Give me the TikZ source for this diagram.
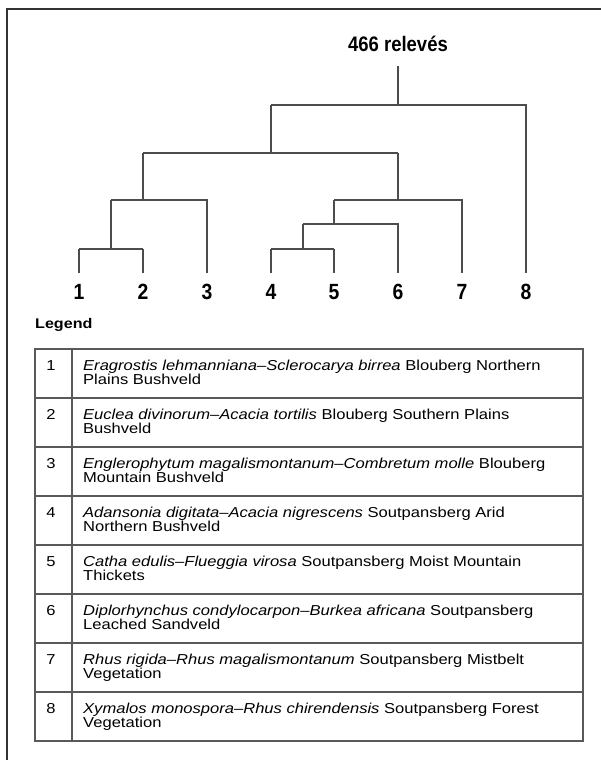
\documentclass[tikz,border=0pt]{standalone}
\usepackage{fontspec}
\setmainfont{Liberation Sans}
\newfontfamily\condbold[FakeStretch=0.88]{Liberation Sans Bold}
\newfontfamily\tabfont[FakeStretch=1.15]{Liberation Sans}
\begin{document}
\begin{tikzpicture}[x=1pt,y=-1pt,
  frameline/.style={draw=black!80,line width=1.3pt},
  tree/.style={draw=black!70,line width=1.2pt},
  tabline/.style={draw=black!65,line width=1.2pt},
  leaflab/.style={font=\condbold\fontsize{22}{22}\selectfont,anchor=base,inner sep=0pt},
  titlelab/.style={font=\condbold\fontsize{21}{21}\selectfont,anchor=base,inner sep=0pt},
  numlab/.style={font=\tabfont\fontsize{14.4}{13}\selectfont,anchor=base,inner sep=0pt},
  rowtext/.style={font=\tabfont\fontsize{14.4}{13}\selectfont,anchor=base west,inner sep=0pt}
]
\useasboundingbox (0,0) rectangle (601,760);
% frame
\draw[frameline] (7,760) -- (7,9) -- (601,9);
% title
\node[titlelab] (title) at (398,52) {466 relevés};
% leaf ends and labels
\foreach \i/\x in {1/79,2/143,3/207,4/271,5/334,6/398,7/462,8/526}{
  \coordinate (e\i) at (\x,273);
  \node[leaflab] (l\i) at (\x,299) {\i};
}
% junction coordinates
\coordinate (root) at (398,105);
\coordinate (j12) at (111,249);
\coordinate (j123) at (143,200);
\coordinate (j45) at (303,249);
\coordinate (j456) at (334,224);
\coordinate (j4567) at (398,200);
\coordinate (jA) at (271,153);
% tree
\draw[tree] (title.south |- 0,66) -- (root);
\draw[tree] (jA |- root) -- (e8 |- root) -- (e8);
\draw[tree] (jA |- root) -- (jA);
\draw[tree] (j123 |- jA) -- (j4567 |- jA);
\draw[tree] (j123 |- jA) -- (j123);
\draw[tree] (j4567 |- jA) -- (j4567);
\draw[tree] (j12 |- j123) -- (e3 |- j123) -- (e3);
\draw[tree] (j12 |- j123) -- (j12);
\draw[tree] (e1 |- j12) -- (e2 |- j12);
\draw[tree] (e1 |- j12) -- (e1);
\draw[tree] (e2 |- j12) -- (e2);
\draw[tree] (j456 |- j4567) -- (e7 |- j4567) -- (e7);
\draw[tree] (j456 |- j4567) -- (j456);
\draw[tree] (j45 |- j456) -- (e6 |- j456) -- (e6);
\draw[tree] (j45 |- j456) -- (j45);
\draw[tree] (e4 |- j45) -- (e5 |- j45);
\draw[tree] (e4 |- j45) -- (e4);
\draw[tree] (e5 |- j45) -- (e5);
% legend
\node[font=\tabfont\bfseries\fontsize{14}{14}\selectfont,anchor=base west,inner sep=0pt] (legend) at (35,328) {Legend};
\draw[tabline] (35,349) rectangle (583,741);
\draw[tabline] (72,349) -- (72,741);
\foreach \k in {1,...,7}{
  \draw[tabline] (35,349+49*\k) -- (583,349+49*\k);
}
\foreach \k/\a/\b in {
 1/{\textit{Eragrostis lehmanniana–Sclerocarya birrea} Blouberg Northern}/{Plains Bushveld},
 2/{\textit{Euclea divinorum–Acacia tortilis} Blouberg Southern Plains}/{Bushveld},
 3/{\textit{Englerophytum magalismontanum–Combretum molle} Blouberg}/{Mountain Bushveld},
 4/{\textit{Adansonia digitata–Acacia nigrescens} Soutpansberg Arid}/{Northern Bushveld},
 5/{\textit{Catha edulis–Flueggia virosa} Soutpansberg Moist Mountain}/{Thickets},
 6/{\textit{Diplorhynchus condylocarpon–Burkea africana} Soutpansberg}/{Leached Sandveld},
 7/{\textit{Rhus rigida–Rhus magalismontanum} Soutpansberg Mistbelt}/{Vegetation},
 8/{\textit{Xymalos monospora–Rhus chirendensis} Soutpansberg Forest}/{Vegetation}}{
  \node[numlab] (n\k) at (51,349+49*\k-49+21) {\k};
  \node[rowtext] (t\k a) at (83,349+49*\k-49+21) {\a};
  \node[rowtext] (t\k b) at (83,349+49*\k-49+35) {\b};
}
\end{tikzpicture}
\end{document}
